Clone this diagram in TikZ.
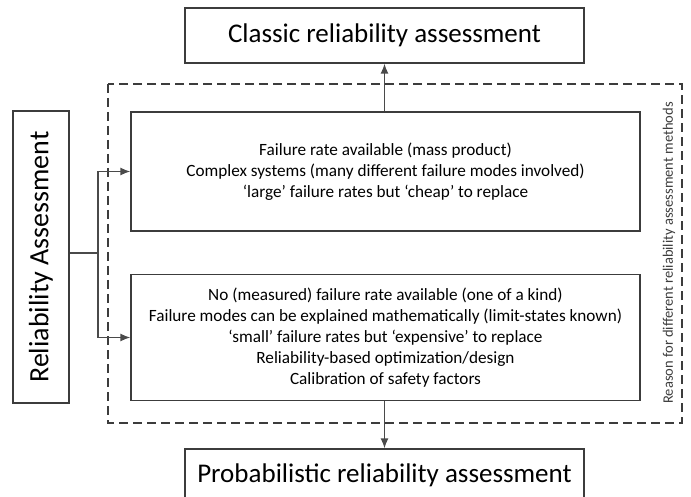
\documentclass[tikz,border=0pt]{standalone}
\usepackage{fontspec}
\setmainfont{Carlito}
\usetikzlibrary{arrows.meta}
\definecolor{ln}{HTML}{3C3C3C}
\definecolor{cn}{HTML}{4A4A4A}
\begin{document}
\begin{tikzpicture}[x=1pt,y=-1pt,
  box/.style={draw=ln,line width=1.2pt,fill=white,inner sep=0pt,align=center},
  conn/.style={draw=cn,line width=1.5pt,-{Latex[length=10pt,width=8pt]}},
  txt/.style={font=\fontsize{17.2}{21}\selectfont},
  big/.style={font=\fontsize{27}{30}\selectfont}]
\useasboundingbox (0,0) rectangle (691,497);
\draw[ln,line width=1.1pt,dash pattern=on 9pt off 5pt] (108,84) rectangle (682,423);
\node[box,minimum width=56pt,minimum height=292pt] (left) at (41,257) {\rotatebox{90}{\fontsize{28}{31}\selectfont Reliability Assessment}};
\node[box,big,minimum width=399pt,minimum height=55pt] (top) at (384.5,35.5) {Classic reliability assessment};
\node[box,big,minimum width=399pt,minimum height=52pt] (bot) at (384.5,475) {Probabilistic reliability assessment};
\node[box,txt,minimum width=509pt,minimum height=119pt] (up) at (385.5,171.5) {Failure rate available (mass product)\\Complex systems (many different failure modes involved)\\‘large’ failure rates but ‘cheap’ to replace};
\node[box,txt,minimum width=509pt,minimum height=126pt] (low) at (385.5,337.5) {No (measured) failure rate available (one of a kind)\\Failure modes can be explained mathematically (limit-states known)\\‘small’ failure rates but ‘expensive’ to replace\\Reliability-based optimization/design\\Calibration of safety factors};
\node[rotate=90,font=\fontsize{14.5}{16}\selectfont,text=ln] (side) at (669,253) {Reason for different reliability assessment methods};
\coordinate (j) at (98,253);
\draw[cn,line width=1.5pt] (left.east |- j) -- (j);
\draw[conn] (j) |- (up.west);
\draw[conn] (j) |- (low.west);
\draw[conn] (up.north -| top.south) -- (top.south);
\draw[conn] (low.south -| bot.north) -- (bot.north);
\end{tikzpicture}
\end{document}
